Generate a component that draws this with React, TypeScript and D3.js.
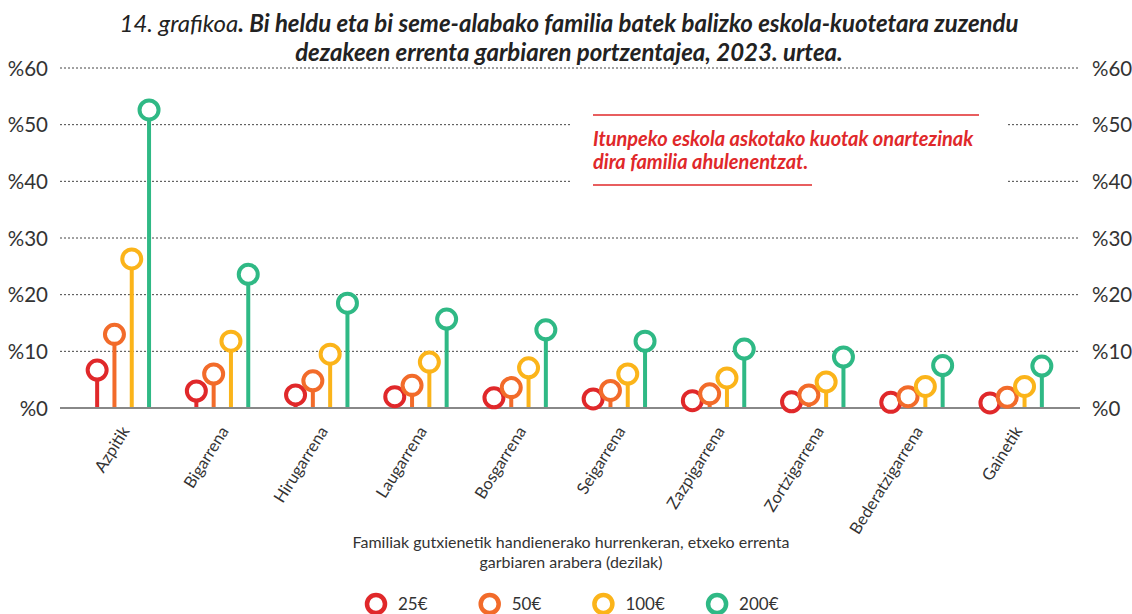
import React from "react";
import * as d3 from "d3";

const categories = ["Azpitik", "Bigarrena", "Hirugarrena", "Laugarrena", "Bosgarrena", "Seigarrena", "Zazpigarrena", "Zortzigarrena", "Bederatzigarrena", "Gainetik"];
const seriesNames = ["25€", "50€", "100€", "200€"];
const v25 = [6.7, 3.0, 2.3, 2.0, 1.8, 1.6, 1.3, 1.1, 1.0, 0.9];
const v50 = [13.0, 6.0, 4.8, 4.0, 3.6, 3.1, 2.5, 2.3, 2.0, 1.9];
const v100 = [26.3, 11.8, 9.5, 8.1, 7.1, 6.0, 5.3, 4.6, 3.8, 3.8];
const v200 = [52.6, 23.6, 18.5, 15.7, 13.8, 11.8, 10.4, 9.0, 7.5, 7.4];
const yTicks = [0, 10, 20, 30, 40, 50, 60];
const colors = ["#e0282a", "#f26b2a", "#fbb41a", "#2fb985"];

const series = [v25, v50, v100, v200];

export default function App() {
  const W = 1132, H = 614;
  const x0 = 60, x1 = 1080;
  const y = d3.scaleLinear().domain([0, 60]).range([408, 68]);
  const xb = d3.scaleBand<string>().domain(categories).range([73.5, 1065.5]);
  const xs = d3.scaleBand<string>().domain(seriesNames).range([-34.6, 34.6]).paddingInner(0);
  const font = "Lato, 'Open Sans', sans-serif";

  return (
    <svg width={W} height={H} style={{ position: "absolute", left: 0, top: 0, background: "#fff" }} fontFamily={font}>
      <rect x={0} y={0} width={W} height={H} fill="#fff" />
      {/* title */}
      <text x={569} y={32} textAnchor="middle" fontSize={24} fontStyle="italic" fill="#222">
        <tspan fontWeight={400}>14. grafikoa</tspan>
        <tspan fontWeight={700}>. Bi heldu eta bi seme-alabako familia batek balizko eskola-kuotetara zuzendu</tspan>
      </text>
      <text x={569} y={61} textAnchor="middle" fontSize={24} fontStyle="italic" fontWeight={700} fill="#222">
        dezakeen errenta garbiaren portzentajea, 2023. urtea.
      </text>
      {/* grid */}
      {yTicks.filter(t => t > 0).map(t => (
        <line key={t} x1={x0} x2={x1} y1={y(t)} y2={y(t)} stroke="#444" strokeWidth={1} strokeDasharray="2,2" />
      ))}
      {yTicks.map(t => (
        <g key={"l" + t}>
          <text x={48} y={y(t) + 7.5} textAnchor="end" fontSize={20.5} fill="#333">%{t}</text>
          <text x={1092} y={y(t) + 7.5} textAnchor="start" fontSize={20.5} fill="#333">%{t}</text>
        </g>
      ))}
      {/* annotation */}
      <rect x={572} y={100} width={436} height={95} fill="#fff" />
      <line x1={593} x2={979} y1={115} y2={115} stroke="#e0282a" strokeWidth={1.5} />
      <line x1={593} x2={812} y1={185} y2={185} stroke="#e0282a" strokeWidth={1.5} />
      <text x={593} y={146} fontSize={20} fontStyle="italic" fontWeight={700} fill="#e0282a">Itunpeko eskola askotako kuotak onartezinak</text>
      <text x={593} y={169} fontSize={20} fontStyle="italic" fontWeight={700} fill="#e0282a">dira familia ahulenentzat.</text>
      {/* lollipops */}
      {categories.map((c, i) => {
        const cx0 = xb(c)! + xb.bandwidth() / 2;
        return (
          <g key={c}>
            {series.map((s, j) => {
              const cx = cx0 + xs(seriesNames[j])! + xs.bandwidth() / 2;
              return <line key={j} x1={cx} x2={cx} y1={y(0)} y2={y(s[i])} stroke={colors[j]} strokeWidth={4} />;
            })}
          </g>
        );
      })}
      <line x1={x0} x2={x1} y1={y(0)} y2={y(0)} stroke="#888" strokeWidth={2} />
      {categories.map((c, i) => {
        const cx0 = xb(c)! + xb.bandwidth() / 2;
        return (
          <g key={"c" + c}>
            {series.map((s, j) => {
              const cx = cx0 + xs(seriesNames[j])! + xs.bandwidth() / 2;
              return <circle key={j} cx={cx} cy={y(s[i])} r={9.5} fill="#fff" stroke={colors[j]} strokeWidth={4} />;
            })}
            <text transform={`translate(${cx0 + 7},${431}) rotate(-58)`} textAnchor="end" fontSize={16.5} fill="#333">{c}</text>
          </g>
        );
      })}
      {/* axis title */}
      <text x={571} y={548} textAnchor="middle" fontSize={16} fill="#333">Familiak gutxienetik handienerako hurrenkeran, etxeko errenta</text>
      <text x={571} y={568} textAnchor="middle" fontSize={16} fill="#333">garbiaren arabera (dezilak)</text>
      {/* legend */}
      {seriesNames.map((n, j) => {
        const lx = 376 + j * 113.7;
        return (
          <g key={n}>
            <circle cx={lx} cy={604} r={9} fill="#fff" stroke={colors[j]} strokeWidth={4.5} />
            <text x={lx + 22} y={610} fontSize={17} fill="#333">{n}</text>
          </g>
        );
      })}
    </svg>
  );
}
